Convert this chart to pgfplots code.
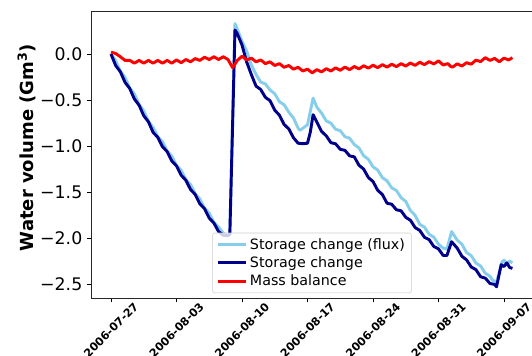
\documentclass[border=0pt]{standalone}
\usepackage{fontspec}
\setmainfont{DejaVu Sans}
\usepackage{pgfplots}
\pgfplotsset{compat=1.18}
\definecolor{lightb}{RGB}{135,206,235}
\definecolor{darkb}{RGB}{0,0,139}
\begin{document}
\begin{tikzpicture}
\begin{axis}[
  at={(0,0)}, anchor=south west,
  scale only axis, width=331.5pt, height=215.25pt,
  xmin=-2.137, xmax=45.10, ymin=-2.652, ymax=0.467,
  axis line style={black!85, line width=0.7pt},
  tick align=outside, major tick length=3pt,
  tick style={black, line width=0.6pt},
  xtick pos=bottom, ytick pos=left,
  xtick={0,7,14,21,28,35,42},
  xticklabels={2006-07-27,2006-08-03,2006-08-10,2006-08-17,2006-08-24,2006-08-31,2006-09-07},
  x tick label style={anchor=center, yshift=-21pt, rotate=45, font=\fontsize{8.4}{9}\selectfont\bfseries},
  ytick={-2.5,-2,-1.5,-1,-0.5,0},
  yticklabels={−2.5,−2.0,−1.5,−1.0,−0.5,0.0},
  y tick label style={font=\fontsize{13}{14}\selectfont},
  ylabel={Water volume (Gm\textsuperscript{3})},
  ylabel style={at={(axis description cs:-0.1448,0.524)}, anchor=center, font=\fontsize{13.5}{15}\selectfont\bfseries},
  legend style={at={(0.5,0.017)}, anchor=south, font=\fontsize{10.7}{12}\selectfont,
    draw=black!20, fill=white, fill opacity=0.8, draw opacity=1, text opacity=1,
    rounded corners=2pt, inner xsep=3pt, inner ysep=2pt, row sep=0pt},
  legend cell align=left,
  legend image code/.code={\draw[#1] (0pt,0pt) -- (21pt,0pt);},
  every axis plot/.append style={line width=2.2pt, line join=round},
]
\addplot[lightb] coordinates {
(0,0) (0.5,-0.072) (1,-0.187) (1.5,-0.254) (2,-0.369) (2.5,-0.435) (3,-0.55) (3.5,-0.617)
(4,-0.731) (4.5,-0.798) (5,-0.9) (5.5,-0.953) (6,-1.055) (6.5,-1.109) (7,-1.21) (7.5,-1.264)
(8,-1.366) (8.5,-1.419) (9,-1.521) (9.5,-1.575) (10,-1.676) (10.5,-1.73) (11,-1.832) (11.5,-1.88)
(12,-1.95) (12.5,-1.97) (12.7,-1.95) (13.25,0.33) (13.5,0.27) (14,0.137) (14.5,0.032) (15,-0.119)
(15.5,-0.223) (16,-0.306) (16.5,-0.325) (17,-0.392) (17.5,-0.432) (18,-0.519) (18.5,-0.552)
(19,-0.632) (19.5,-0.696) (20,-0.807) (20.2,-0.83) (20.5,-0.807) (21,-0.77) (21.6,-0.48)
(22,-0.578) (22.5,-0.642) (23,-0.727) (23.5,-0.752) (24,-0.817) (24.5,-0.834) (25,-0.899)
(25.5,-0.915) (26,-0.984) (26.5,-1.021) (27,-1.106) (27.5,-1.144) (28,-1.227) (28.5,-1.261)
(29,-1.344) (29.5,-1.378) (30,-1.455) (30.5,-1.484) (31,-1.561) (31.5,-1.603) (32,-1.702)
(32.5,-1.753) (33,-1.852) (33.5,-1.882) (34,-1.96) (34.5,-1.99) (35,-2.068) (35.5,-2.11)
(35.9,-2.12) (36.4,-1.93) (37,-2.023) (37.5,-2.067) (38,-2.158) (38.5,-2.192) (39,-2.272)
(39.5,-2.304) (40,-2.383) (40.5,-2.415) (40.8,-2.46) (41.2,-2.48) (41.8,-2.26) (42,-2.24)
(42.3,-2.29) (42.6,-2.25) (42.9,-2.27)
};
\addlegendentry{Storage change (flux)}
\addplot[darkb] coordinates {
(0,0) (0.5,-0.126) (1,-0.193) (1.5,-0.308) (2,-0.375) (2.5,-0.489) (3,-0.556) (3.5,-0.671)
(4,-0.737) (4.5,-0.852) (5,-0.906) (5.5,-1.007) (6,-1.061) (6.5,-1.163) (7,-1.216) (7.5,-1.318)
(8,-1.372) (8.5,-1.473) (9,-1.527) (9.5,-1.629) (10,-1.682) (10.5,-1.784) (11,-1.838) (11.5,-1.93)
(12,-1.97) (12.5,-1.975) (12.7,-1.96) (13.25,0.26) (13.5,0.22) (14,0.098) (14.5,-0.087)
(15,-0.224) (15.5,-0.349) (16,-0.386) (16.5,-0.471) (17,-0.508) (17.5,-0.611) (18,-0.665)
(18.5,-0.766) (19,-0.814) (19.5,-0.91) (20,-0.97) (20.5,-0.975) (21,-0.97) (21.3,-0.85)
(21.6,-0.66) (22,-0.74) (22.5,-0.841) (23,-0.889) (23.5,-0.964) (24,-0.976) (24.5,-1.036)
(25,-1.047) (25.5,-1.107) (26,-1.118) (26.5,-1.209) (27,-1.251) (27.5,-1.342) (28,-1.386)
(28.5,-1.481) (29,-1.527) (29.5,-1.622) (30,-1.633) (30.5,-1.693) (31,-1.704) (31.5,-1.775)
(32,-1.807) (32.5,-1.886) (33,-1.918) (33.5,-1.992) (34,-2.018) (34.5,-2.092) (35,-2.118)
(35.5,-2.19) (35.9,-2.19) (36.4,-2.04) (37,-2.11) (37.5,-2.198) (38,-2.238) (38.5,-2.315)
(39,-2.344) (39.5,-2.421) (40,-2.436) (40.5,-2.494) (41,-2.505) (41.2,-2.53) (41.7,-2.29)
(42,-2.31) (42.3,-2.27) (42.6,-2.32) (42.9,-2.33)
};
\addlegendentry{Storage change}
\addplot[red] coordinates {
(0,0.02) (0.5,0.005) (1,-0.03) (1.5,-0.07) (2,-0.07) (2.5,-0.1) (3,-0.07) (3.5,-0.1) (4,-0.07)
(4.5,-0.1) (5,-0.07) (5.5,-0.1) (6,-0.07) (6.5,-0.1) (7,-0.065) (7.5,-0.095) (8,-0.06)
(8.5,-0.085) (9,-0.05) (9.5,-0.07) (10,-0.035) (10.5,-0.06) (11,-0.03) (11.5,-0.06) (12,-0.03)
(12.5,-0.06) (13,-0.15) (13.5,-0.07) (14,-0.025) (14.5,-0.065) (15,-0.045) (15.5,-0.085)
(16,-0.065) (16.5,-0.105) (17,-0.085) (17.5,-0.125) (18,-0.105) (18.5,-0.145) (19,-0.125)
(19.5,-0.165) (20,-0.145) (20.5,-0.185) (21,-0.165) (21.5,-0.205) (22,-0.17) (22.5,-0.195)
(23,-0.16) (23.5,-0.185) (24,-0.151) (24.5,-0.177) (25,-0.143) (25.5,-0.17) (26,-0.136)
(26.5,-0.162) (27,-0.128) (27.5,-0.154) (28,-0.122) (28.5,-0.149) (29,-0.116) (29.5,-0.143)
(30,-0.111) (30.5,-0.138) (31,-0.105) (31.5,-0.131) (32,-0.098) (32.5,-0.124) (33,-0.09)
(33.5,-0.116) (34,-0.083) (34.5,-0.109) (35,-0.075) (35.5,-0.12) (36,-0.105) (36.3,-0.135)
(36.5,-0.143) (37,-0.107) (37.5,-0.131) (38,-0.095) (38.5,-0.111) (39,-0.067) (39.5,-0.083)
(40,-0.04) (40.5,-0.07) (41,-0.048) (41.5,-0.085) (42,-0.045) (42.5,-0.065) (42.9,-0.04)
};
\addlegendentry{Mass balance}
\end{axis}
\pgfresetboundingbox
\path[use as bounding box] (-68.25pt,-42.75pt) rectangle (330.75pt,223.5pt);
\end{tikzpicture}
\end{document}
